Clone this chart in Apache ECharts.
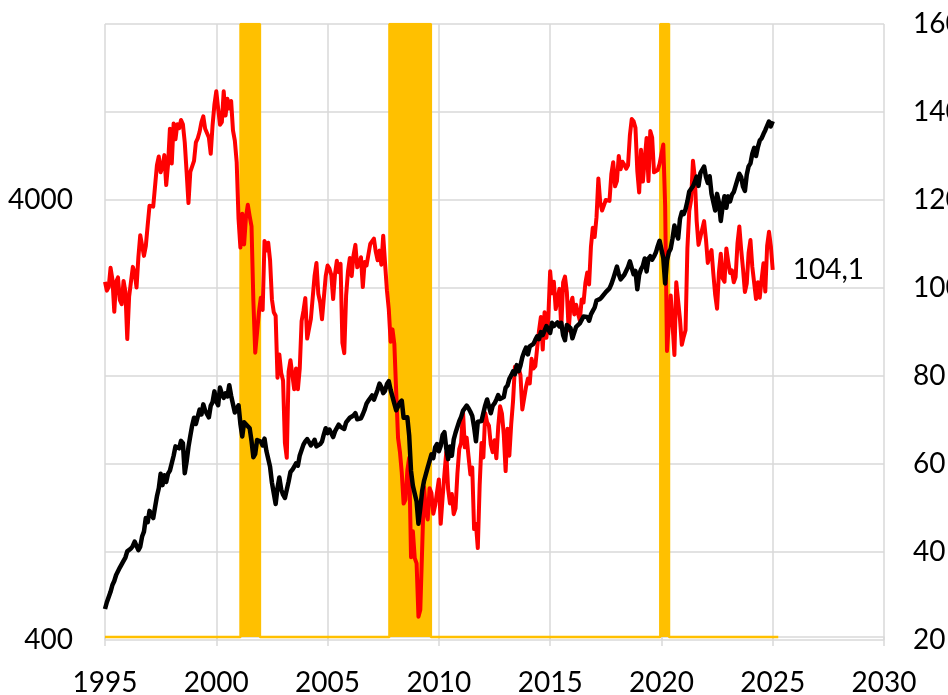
<!DOCTYPE html>
<html>
<head>
<meta charset="utf-8">
<script src="https://cdn.jsdelivr.net/npm/echarts@6/dist/echarts.min.js"></script>
<style>
  html, body { margin: 0; padding: 0; background: #fff; }
  #chart { width: 948px; height: 695px; }
</style>
</head>
<body>
<div id="chart"></div>
<script>
// monthly, Jan 1995 .. Jan 2025
var startYear = 1995

// consumer confidence (right axis)
var confidence = [
  101.4, 99.4, 100.2, 104.6, 102.0, 94.6, 101.4, 102.4, 97.3, 96.3, 101.6, 99.2,
  88.4, 98.0, 98.4, 104.8, 103.5, 100.1, 107.0, 112.0, 111.8, 107.3, 109.5, 114.2,
  118.7, 118.9, 118.5, 118.5, 127.9, 129.9, 126.3, 127.6, 130.2, 123.4, 128.1, 136.2,
  128.3, 137.4, 133.8, 137.2, 136.3, 138.2, 137.2, 133.1, 126.4, 119.3, 126.4, 126.7,
  128.9, 133.1, 134.0, 135.5, 137.7, 139.0, 136.2, 136.0, 134.2, 130.5, 137.0, 141.7,
  144.7, 140.8, 137.1, 137.7, 144.7, 139.2, 143.0, 140.8, 142.5, 135.8, 133.5, 128.6,
  115.7, 109.2, 116.9, 109.9, 116.1, 118.9, 116.3, 114.0, 97.0, 85.3, 84.9, 94.6,
  97.8, 95.0, 110.7, 108.5, 110.3, 106.3, 97.4, 94.5, 93.7, 79.6, 84.9, 80.7,
  79.0, 64.8, 61.4, 81.0, 83.6, 83.5, 77.0, 81.7, 77.0, 81.7, 92.5, 94.8,
  97.7, 88.5, 88.5, 93.0, 93.1, 102.8, 105.7, 98.7, 96.7, 92.9, 92.6, 102.7,
  105.1, 104.4, 103.0, 97.5, 103.1, 106.2, 103.6, 105.5, 87.5, 85.2, 98.3, 103.8,
  106.8, 102.7, 107.5, 109.8, 104.7, 105.4, 107.0, 100.2, 105.9, 105.1, 105.3, 110.0,
  110.2, 111.2, 108.2, 106.3, 108.5, 105.3, 111.9, 105.6, 99.5, 95.2, 87.8, 90.6,
  87.3, 76.4, 65.9, 62.8, 58.1, 51.0, 51.9, 58.5, 61.4, 38.8, 44.7, 38.6,
  37.4, 25.3, 26.9, 40.8, 54.8, 49.3, 47.4, 54.5, 53.4, 48.7, 50.6, 53.6,
  56.5, 46.4, 52.3, 57.7, 62.7, 54.3, 51.0, 53.2, 48.6, 49.9, 57.8, 63.4,
  64.8, 72.0, 63.8, 66.0, 61.7, 57.6, 59.2, 45.2, 46.4, 40.9, 55.2, 64.8,
  61.5, 71.6, 69.5, 68.7, 64.4, 62.7, 65.4, 61.3, 68.4, 73.1, 71.5, 66.7,
  58.4, 68.0, 61.9, 69.0, 74.3, 82.1, 81.0, 81.8, 80.2, 72.4, 72.0, 77.5,
  79.4, 78.3, 83.9, 81.7, 82.2, 86.4, 90.3, 93.4, 86.0, 94.5, 88.7, 93.1,
  103.8, 98.8, 101.4, 95.2, 95.4, 99.8, 91.0, 101.3, 102.6, 99.1, 90.4, 96.3,
  97.8, 94.0, 96.2, 94.2, 92.6, 97.4, 96.7, 101.1, 103.5, 100.8, 109.4, 113.7,
  111.6, 116.1, 124.9, 119.4, 117.6, 117.3, 120.0, 120.4, 119.8, 125.9, 128.6, 123.1,
  124.3, 130.0, 127.0, 128.7, 128.0, 127.1, 127.9, 134.7, 138.4, 137.9, 136.4, 126.6,
  121.7, 131.4, 124.2, 129.2, 134.1, 124.3, 135.7, 134.2, 126.3, 126.1, 126.8, 128.2,
  130.4, 132.6, 118.8, 85.7, 85.9, 98.3, 91.7, 84.8, 101.3, 101.4, 92.9, 87.1,
  88.9, 90.4, 109.0, 117.5, 120.0, 128.9, 125.1, 115.2, 109.8, 111.6, 111.9, 115.2,
  111.1, 105.7, 107.6, 108.6, 103.2, 98.4, 95.3, 103.6, 107.8, 102.2, 101.4, 109.0,
  106.0, 103.4, 104.0, 101.3, 102.5, 110.1, 114.0, 108.7, 104.3, 99.1, 101.0, 108.0,
  110.9, 104.8, 104.7, 97.5, 101.3, 97.8, 101.9, 105.6, 99.2, 109.6, 112.8, 109.5,
  104.1
]

// S&P 500 monthly close (left log axis)
var sp500 = [
  470.4, 487.4, 500.7, 514.7, 533.4, 544.8, 562.1, 561.9, 584.4, 581.5, 605.4, 615.9,
  636.0, 640.4, 645.5, 654.2, 669.1, 670.6, 639.9, 652.0, 687.3, 705.3, 757.0, 740.7,
  786.2, 790.8, 757.1, 801.3, 848.3, 885.1, 954.3, 899.5, 947.3, 914.6, 955.4, 970.4,
  980.3, 1049.3, 1101.8, 1111.8, 1090.8, 1133.8, 1120.7, 957.3, 1017.0, 1098.7, 1163.6, 1229.2,
  1279.6, 1238.3, 1286.4, 1335.2, 1301.8, 1372.7, 1328.7, 1320.4, 1282.7, 1362.9, 1388.9, 1469.3,
  1394.5, 1366.4, 1498.6, 1452.4, 1420.6, 1454.6, 1430.8, 1517.7, 1436.5, 1429.4, 1315.0, 1320.3,
  1366.0, 1239.9, 1160.3, 1249.5, 1255.8, 1224.4, 1211.2, 1133.6, 1040.9, 1059.8, 1139.5, 1148.1,
  1130.2, 1106.7, 1147.4, 1076.9, 1067.1, 989.8, 911.6, 916.1, 815.3, 885.8, 936.3, 879.8,
  855.7, 841.2, 848.2, 916.9, 963.6, 974.5, 990.3, 1008.0, 996.0, 1050.7, 1058.2, 1111.9,
  1131.1, 1144.9, 1126.2, 1107.3, 1120.7, 1140.8, 1101.7, 1104.2, 1114.6, 1130.2, 1173.8, 1211.9,
  1181.3, 1203.6, 1180.6, 1156.9, 1191.5, 1191.3, 1234.2, 1220.3, 1228.8, 1207.0, 1249.5, 1248.3,
  1280.1, 1280.7, 1294.9, 1310.6, 1270.1, 1270.2, 1276.7, 1303.8, 1335.9, 1377.9, 1400.6, 1418.3,
  1438.2, 1406.8, 1420.9, 1482.4, 1530.6, 1503.4, 1455.3, 1474.0, 1526.8, 1549.4, 1481.1, 1468.4,
  1378.6, 1330.6, 1322.7, 1385.6, 1400.4, 1280.0, 1267.4, 1282.8, 1166.4, 968.8, 896.2, 903.3,
  825.9, 735.1, 797.9, 872.8, 919.1, 919.3, 987.5, 1020.6, 1057.1, 1036.2, 1095.6, 1115.1,
  1073.9, 1104.5, 1169.4, 1186.7, 1089.4, 1030.7, 1101.6, 1049.3, 1141.2, 1183.3, 1180.6, 1257.6,
  1286.1, 1327.2, 1325.8, 1363.6, 1345.2, 1320.6, 1292.3, 1218.9, 1131.4, 1253.3, 1247.0, 1257.6,
  1312.4, 1365.7, 1408.5, 1397.9, 1310.3, 1362.2, 1379.3, 1406.6, 1440.7, 1412.2, 1416.2, 1426.2,
  1498.1, 1514.7, 1569.2, 1597.6, 1630.7, 1606.3, 1685.7, 1633.0, 1681.6, 1756.5, 1805.8, 1848.4,
  1782.6, 1859.5, 1872.3, 1884.0, 1923.6, 1960.2, 1930.7, 2003.4, 1972.3, 2018.1, 2067.6, 2058.9,
  1995.0, 2104.5, 2067.9, 2085.5, 2107.4, 2063.1, 2103.8, 1972.2, 1920.0, 2079.4, 2080.4, 2043.9,
  1940.2, 1932.2, 2059.7, 2065.3, 2097.0, 2098.9, 2173.6, 2171.0, 2168.3, 2126.2, 2198.8, 2238.8,
  2278.9, 2363.6, 2362.7, 2384.2, 2411.8, 2423.4, 2470.3, 2471.7, 2519.4, 2575.3, 2647.6, 2673.6,
  2823.8, 2713.8, 2640.9, 2648.1, 2705.3, 2718.4, 2816.3, 2901.5, 2914.0, 2711.7, 2760.2, 2506.9,
  2704.1, 2784.5, 2834.4, 2945.8, 2752.1, 2941.8, 2980.4, 2926.5, 2976.7, 3037.6, 3141.0, 3230.8,
  3225.5, 2954.2, 2584.6, 2912.4, 3044.3, 3100.3, 3271.1, 3500.3, 3363.0, 3270.0, 3621.6, 3756.1,
  3714.2, 3811.2, 3972.9, 4181.2, 4204.1, 4297.5, 4395.3, 4522.7, 4307.5, 4605.4, 4567.0, 4766.2,
  4515.6, 4373.9, 4530.4, 4131.9, 4132.2, 3785.4, 4130.3, 3955.0, 3585.6, 3872.0, 4080.1, 3839.5,
  4076.6, 3970.2, 4109.3, 4169.5, 4179.8, 4450.4, 4589.0, 4507.7, 4288.1, 4193.8, 4567.8, 4769.8,
  4845.7, 5096.3, 5254.4, 5035.7, 5277.5, 5460.5, 5522.3, 5648.4, 5762.5, 5705.5, 6032.4, 5881.6,
  6040.5
]

// recession periods (shaded), and the span of the recession series
var recessions = [[2001.09, 2001.96], [2007.78, 2009.64], [2019.95, 2020.34]]
var recessionSpan = [1995, 2025.25]

// left axis labels sit on the right axis grid (log 400..10000 <-> 20..160)
var leftTickLabels = { 20: '400', 120: '4000' }

var FONT = 'Lato'
var chart = echarts.init(document.getElementById('chart'), null, { renderer: 'canvas' })

function toXY (arr) {
  return arr.map(function (v, i) { return [startYear + i / 12, v] })
}

var recessionData = [[recessionSpan[0], 0]]
recessions.forEach(function (r) {
  recessionData.push([r[0], 0], [r[0], 1], [r[1], 1], [r[1], 0])
})
recessionData.push([recessionSpan[1], 0])

var gridColor = '#d9d9d9'

var option = {
  animation: false,
  textStyle: { fontFamily: FONT },
  grid: { left: 105, right: 64, top: 24, bottom: 55, containLabel: false, outerBoundsMode: 'none' },
  xAxis: {
    type: 'value',
    min: 1995,
    max: 2030,
    interval: 5,
    axisLine: { show: true, lineStyle: { color: gridColor, width: 1.5 } },
    axisTick: { show: true, length: 9, lineStyle: { color: gridColor, width: 1.5 } },
    axisLabel: {
      color: '#000',
      fontSize: 28,
      margin: 29,
      fontFamily: FONT,
      formatter: function (v) { return String(v) }
    },
    splitLine: { show: true, lineStyle: { color: gridColor, width: 1.5 } }
  },
  yAxis: [
    {
      // right axis
      type: 'value',
      position: 'right',
      min: 20,
      max: 160,
      interval: 20,
      axisLine: { show: false },
      axisTick: { show: false },
      axisLabel: { color: '#000', fontSize: 28, margin: 29, fontFamily: FONT },
      splitLine: { show: true, lineStyle: { color: gridColor, width: 1.5 } }
    },
    {
      // log axis for the index (hidden, labels drawn by the next axis)
      type: 'log',
      logBase: 10,
      position: 'left',
      min: 400,
      max: 400 * Math.pow(10, 1.4),
      show: false
    },
    {
      type: 'value',
      position: 'left',
      min: 20,
      max: 160,
      interval: 20,
      axisLine: { show: false },
      axisTick: { show: false },
      splitLine: { show: false },
      axisLabel: {
        color: '#000',
        fontSize: 28,
        margin: 32,
        fontFamily: FONT,
        formatter: function (v) { return leftTickLabels[v] || '' }
      }
    },
    {
      // recession indicator, baseline sits just above the x axis
      type: 'value',
      min: -0.005,
      max: 1,
      show: false
    }
  ],
  series: [
    {
      name: 'Recession',
      type: 'line',
      yAxisIndex: 3,
      data: recessionData,
      symbol: 'none',
      lineStyle: { color: '#ffc000', width: 2.5 },
      areaStyle: { color: '#ffc000', opacity: 1 },
      z: 1
    },
    {
      name: 'Consumer confidence',
      type: 'line',
      yAxisIndex: 0,
      data: toXY(confidence),
      symbol: 'none',
      lineStyle: { color: '#ff0000', width: 4, join: 'round' },
      endLabel: {
        show: true,
        distance: 20,
        color: '#000',
        fontSize: 28,
        fontFamily: FONT,
        formatter: function (p) { return String(p.value[1]).replace('.', ',') }
      },
      z: 3
    },
    {
      name: 'S&P 500',
      type: 'line',
      yAxisIndex: 1,
      data: toXY(sp500),
      symbol: 'none',
      lineStyle: { color: '#000000', width: 4.5, join: 'round' },
      z: 4
    }
  ]
}

chart.setOption(option)
</script>
</body>
</html>
